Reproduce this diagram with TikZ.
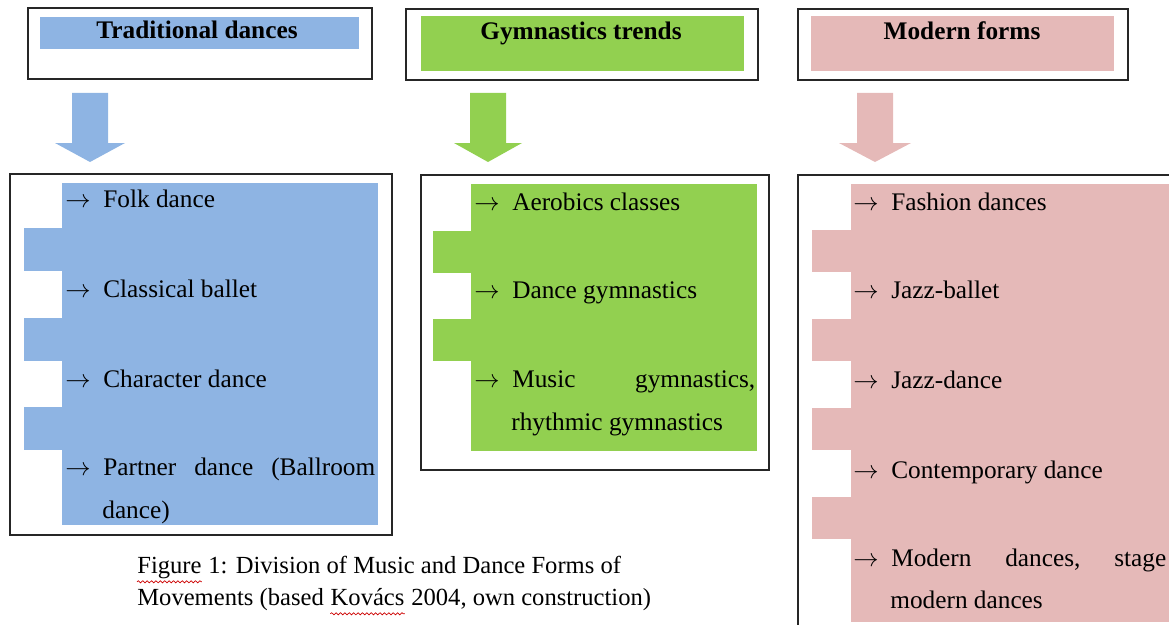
\documentclass[tikz,border=0pt]{standalone}
\usepackage{fontspec}
\setmainfont{Liberation Serif}
\usetikzlibrary{positioning,decorations.pathmorphing}
\definecolor{tradblue}{RGB}{142,180,227}
\definecolor{gymgreen}{RGB}{146,208,80}
\definecolor{modpink}{RGB}{229,185,184}
\newcommand{\goesto}{$\rightarrow$\hspace{0.5em}}

\begin{document}
\begin{tikzpicture}[x=0.02cm,y=-0.02cm,
    frame/.style={draw=black!85,line width=0.9pt},
    head/.style={font=\fontsize{14.4}{17}\selectfont\bfseries,inner sep=0pt,anchor=base},
    item/.style={font=\fontsize{14.4}{17}\selectfont,inner sep=0pt,anchor=base west},
    capt/.style={font=\fontsize{14}{17}\selectfont,inner sep=0pt,anchor=base west},
    squig/.style={red!80!black,line width=0.4pt,decorate,
                  decoration={snake,segment length=2.5pt,amplitude=0.6pt}}
  ]
    \useasboundingbox (0,0) rectangle (1169,625);
    \clip (0,0) rectangle (1169,625);

    % traditional dances
    \draw[frame] (28,8) rectangle (372,79);
    \fill[tradblue] (40,17) rectangle (359,49);
    \node[head] (trad) at (197,39) {Traditional dances};
    \fill[tradblue] (72,93) -- (108,93) -- (108,143) -- (125,143) -- (90,162)
      -- (55,143) -- (72,143) -- cycle;
    \draw[frame] (10,174) rectangle (392,535);
    \fill[tradblue] (62,183) rectangle (378,525);
    \foreach \y in {228,318,407}
      \fill[tradblue] (24,\y) rectangle (62,\y+43);
    \node[item] (folk) at (65,207) {\goesto Folk dance};
    \node[item] (ballet) at (65,297) {\goesto Classical ballet};
    \node[item] (charac) at (65,387) {\goesto Character dance};
    \node[item] (partner) at (65,475) {\makebox[6.2cm][l]{\goesto Partner\hfill dance\hfill (Ballroom}};
    \node[item] (partnerb) at (102,518) {dance)};

    % gymnastics trends
    \draw[frame] (406,9) rectangle (758,80);
    \fill[gymgreen] (421,16) rectangle (744,71);
    \node[head] (gym) at (581,40) {Gymnastics trends};
    \fill[gymgreen] (470,93) -- (506,93) -- (506,143) -- (522,143) -- (488,162)
      -- (454,143) -- (470,143) -- cycle;
    \draw[frame] (421,175) rectangle (769,470);
    \fill[gymgreen] (471,184) rectangle (757,451);
    \foreach \y in {231,319}
      \fill[gymgreen] (433,\y) rectangle (471,\y+42);
    \node[item] (aerob) at (474,210) {\goesto Aerobics classes};
    \node[item] (dgym) at (474,298) {\goesto Dance gymnastics};
    \node[item] (mgym) at (474,387) {\makebox[5.62cm][l]{\goesto Music\hfill gymnastics,}};
    \node[item] (rgym) at (511,430) {rhythmic gymnastics};

    % modern forms
    \draw[frame] (798,9) rectangle (1128,80);
    \fill[modpink] (811,16) rectangle (1114,71);
    \node[head] (modern) at (962,40) {Modern forms};
    \fill[modpink] (857,93) -- (893,93) -- (893,143) -- (911,143) -- (875,162)
      -- (839,143) -- (857,143) -- cycle;
    \draw[frame] (798,175) rectangle (1200,660);
    \fill[modpink] (851,184) rectangle (1169,622);
    \foreach \y in {230,319,408,497}
      \fill[modpink] (812,\y) rectangle (851,\y+42);
    \node[item] (fashion) at (853,210) {\goesto Fashion dances};
    \node[item] (jballet) at (853,298) {\goesto Jazz-ballet};
    \node[item] (jdance) at (853,388) {\goesto Jazz-dance};
    \node[item] (contemp) at (853,478) {\goesto Contemporary dance};
    \node[item] (stage) at (853,566) {\makebox[6.26cm][l]{\goesto Modern\hfill dances,\hfill stage}};
    \node[item] (stageb) at (890,608) {modern dances};

    % caption
    \node[capt] (figw) at (137,573) {Figure};
    \node[capt] (cap1) at (figw.base east) {\ 1: Division of Music and Dance Forms of};
    \node[capt] (cap2) at (137,605) {Movements (based};
    \node[capt,xshift=3.5pt] (kov) at (cap2.base east) {Kovács};
    \node[capt,xshift=3.5pt] (cap3) at (kov.base east) {2004, own construction)};
    \draw[squig] ([yshift=-5pt]figw.base west) -- ([yshift=-5pt]figw.base east);
    \draw[squig] ([yshift=-5pt]kov.base west) -- ([yshift=-5pt]kov.base east);
  \end{tikzpicture}
\end{document}
